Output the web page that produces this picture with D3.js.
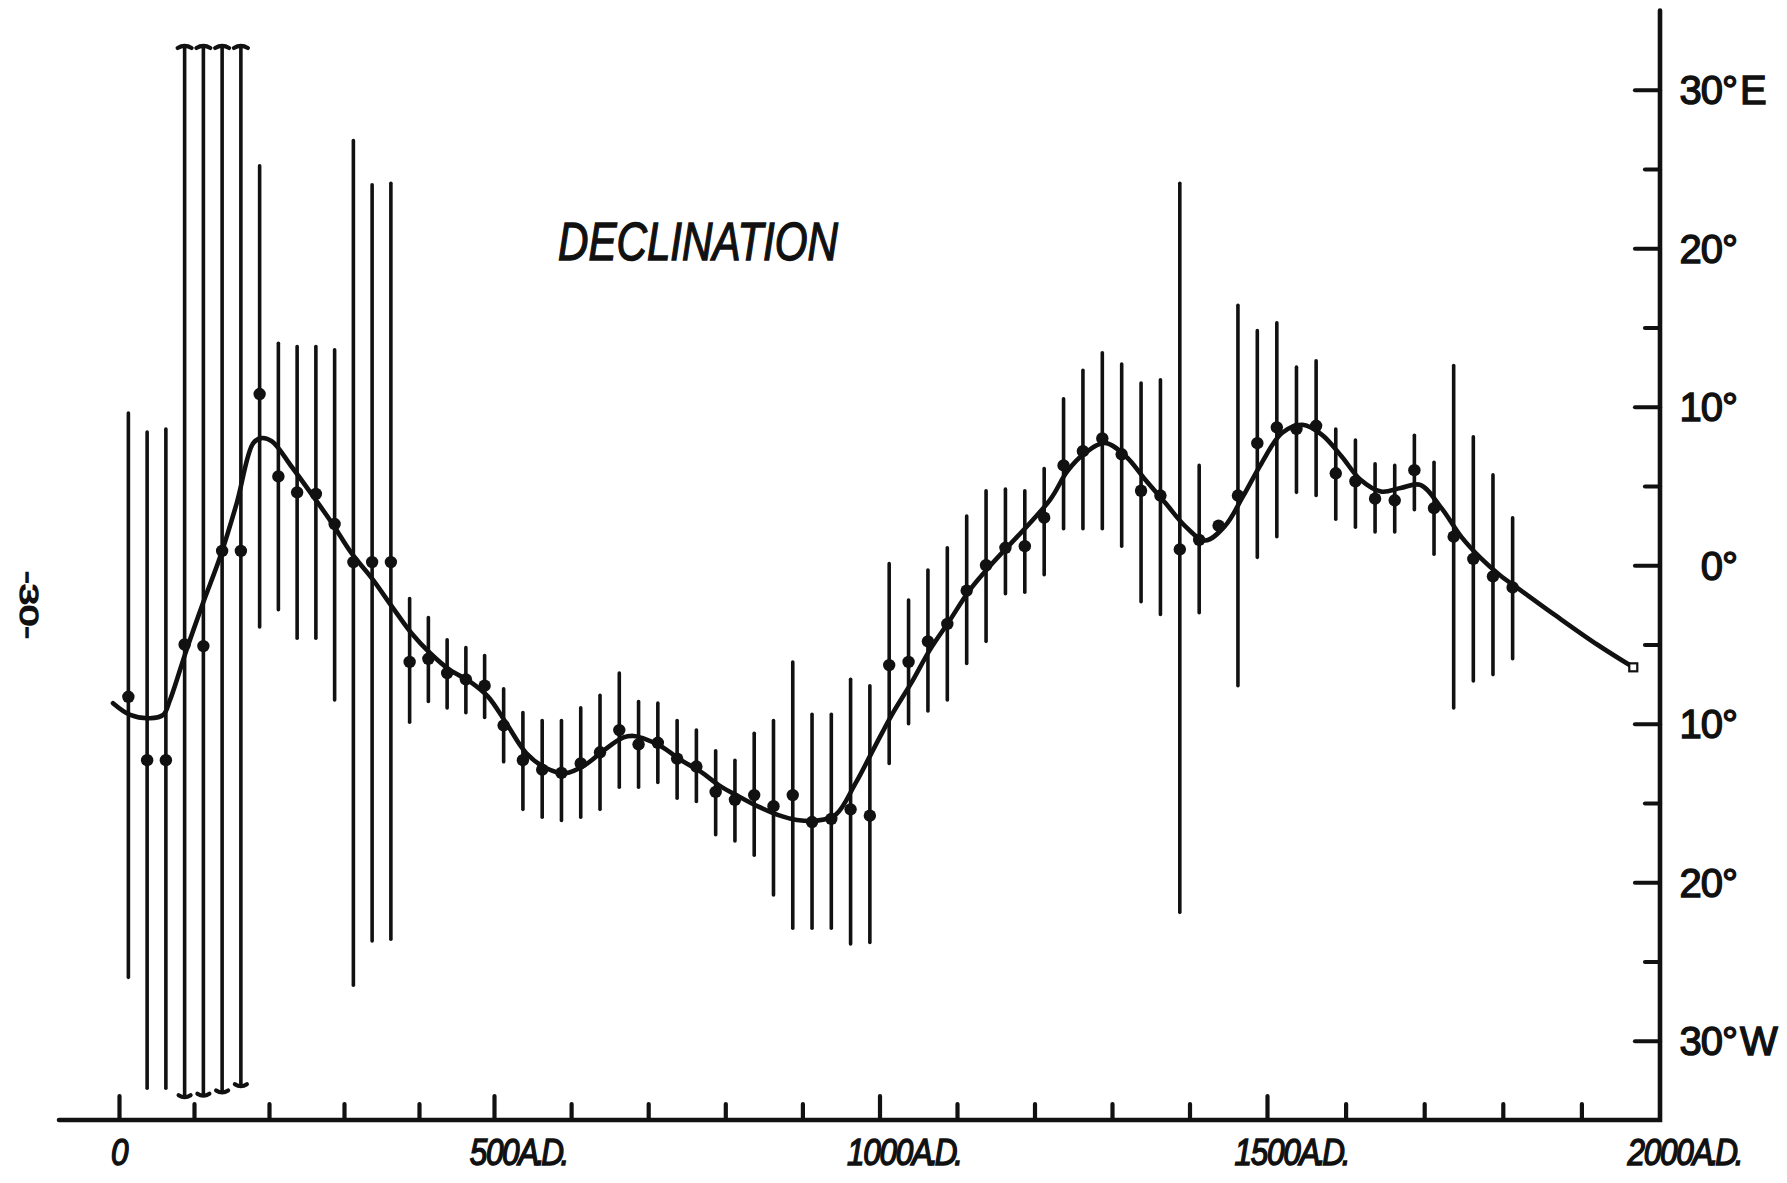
<!DOCTYPE html>
<html>
<head>
<meta charset="utf-8">
<title>Declination</title>
<script src="https://cdn.jsdelivr.net/npm/d3@7"></script>
<style>
    html, body { margin: 0; padding: 0; background: #fff; }
    svg { display: block; }
    text { font-family: "Liberation Sans", Arial, sans-serif; fill: #111; }
</style>
</head>
<body>
<svg id="chart" width="1787" height="1183"></svg>
<script>
/**
 * Declination record, 0 - 2000 A.D.: 25-year means with error bars
 * plus the smoothed curve. Degrees, positive = east.
 */

// 25-year bin centres
const years = [
    12.5, 37.5, 62.5, 87.5, 112.5, 137.5, 162.5, 187.5, 212.5, 237.5,
    262.5, 287.5, 312.5, 337.5, 362.5, 387.5, 412.5, 437.5, 462.5, 487.5,
    512.5, 537.5, 562.5, 587.5, 612.5, 637.5, 662.5, 687.5, 712.5, 737.5,
    762.5, 787.5, 812.5, 837.5, 862.5, 887.5, 912.5, 937.5, 962.5, 987.5,
    1012.5, 1037.5, 1062.5, 1087.5, 1112.5, 1137.5, 1162.5, 1187.5, 1212.5, 1237.5,
    1262.5, 1287.5, 1312.5, 1337.5, 1362.5, 1387.5, 1412.5, 1437.5, 1462.5, 1487.5,
    1512.5, 1537.5, 1562.5, 1587.5, 1612.5, 1637.5, 1662.5, 1687.5, 1712.5, 1737.5,
    1762.5, 1787.5, 1812.5,
];

const declination = [
    -8.3, -12.3, -12.3, -5.0, -5.1, 0.9, 0.9, 10.8, 5.6, 4.6,
    4.5, 2.6, 0.2, 0.2, 0.2, -6.1, -5.9, -6.8, -7.2, -7.6,
    -10.1, -12.3, -12.9, -13.1, -12.5, -11.8, -10.4, -11.3, -11.2, -12.2,
    -12.7, -14.3, -14.8, -14.5, -15.2, -14.5, -16.2, -16.0, -15.4, -15.8,
    -6.3, -6.1, -4.8, -3.7, -1.6, 0.0, 1.1, 1.2, 3.0, 6.3,
    7.2, 8.0, 7.0, 4.7, 4.4, 1.0, 1.6, 2.5, 4.4, 7.7,
    8.7, 8.6, 8.8, 5.8, 5.3, 4.2, 4.1, 6.0, 3.6, 1.8,
    0.4, -0.7, -1.4,
];

// upper / lower end of each error bar (null = no bar drawn)
const errHigh = [
    9.6, 8.4, 8.6, 32.7, 32.7, 32.7, 32.7, 25.2, 14.0, 13.8,
    13.8, 13.6, 26.8, 24.0, 24.1, -2.1, -3.3, -4.7, -5.2, -5.7,
    -7.8, -9.3, -9.8, -9.8, -9.0, -8.2, -6.8, -8.6, -8.7, -9.8,
    -10.4, -11.7, -12.3, -10.6, -9.8, -6.1, -9.4, -9.4, -7.2, -7.6,
    0.1, -2.2, -0.3, 1.1, 3.1, 4.7, 4.8, 4.7, 6.1, 10.5,
    12.3, 13.4, 12.7, 11.5, 11.7, 24.1, 6.3, null, 16.4, 14.8,
    15.3, 12.5, 12.9, 8.6, 7.9, 6.4, 6.3, 8.2, 6.5, 12.6,
    8.1, 5.7, 3.0,
];

const errLow = [
    -26.0, -33.0, -33.0, -33.5, -33.4, -33.2, -32.8, -3.9, -2.8, -4.6,
    -4.6, -8.5, -26.5, -23.7, -23.6, -9.9, -8.6, -9.0, -9.3, -9.6,
    -12.4, -15.4, -15.9, -16.1, -15.9, -15.4, -14.0, -14.0, -13.7, -14.7,
    -14.9, -17.0, -17.4, -18.3, -20.8, -22.9, -22.9, -22.9, -23.9, -23.8,
    -12.5, -10.0, -9.2, -8.5, -6.2, -4.8, -1.8, -1.7, -0.6, 2.3,
    2.3, 2.3, 1.2, -2.3, -3.1, -21.9, -3.0, null, -7.6, 0.5,
    1.8, 4.6, 4.4, 2.9, 2.4, 2.1, 2.1, 3.5, 0.7, -9.0,
    -7.3, -6.9, -5.9,
];

// bars running off the scale, drawn with end caps
const offScaleYears = [87.5, 112.5, 137.5, 162.5];

// smoothed curve
const curveYears = [
    -8, 15, 41, 59, 68, 90, 112, 135, 157, 179,
    190, 204, 230, 259, 284, 310, 337, 364, 390, 415,
    441, 468, 492, 516, 542, 568, 593, 618, 643, 668,
    681, 693, 717, 742, 768, 793, 818, 843, 868, 893,
    919, 943, 969, 994, 1017, 1042, 1065, 1091, 1115, 1142,
    1220, 1242, 1265, 1291, 1318, 1343, 1369, 1395, 1420, 1446,
    1469, 1493, 1519, 1545, 1570, 1595, 1619, 1645, 1670, 1695,
    1722, 1747, 1772, 1796, 1822, 1868, 1920, 1966,
];

const curveValues = [
    -8.70, -9.44, -9.65, -9.44, -8.50, -5.34, -2.39, 0.55, 3.92, 7.71,
    8.02, 7.81, 6.23, 4.34, 2.66, 0.76, -0.81, -2.61, -4.29, -5.55,
    -6.60, -7.34, -8.29, -9.97, -11.86, -12.81, -13.12, -12.60, -11.65, -10.86,
    -10.77, -10.91, -11.44, -12.28, -13.02, -13.92, -14.60, -15.23, -15.75, -16.07,
    -16.11, -15.75, -13.75, -11.44, -9.34, -7.34, -5.34, -3.45, -1.66, -0.08,
    4.13, 5.91, 7.07, 7.71, 6.86, 5.39, 3.92, 2.44, 1.56, 2.49,
    4.34, 6.44, 8.34, 8.86, 8.23, 6.86, 5.39, 4.65, 4.87, 5.07,
    3.60, 1.81, 0.45, -0.61, -1.55, -3.20, -5.00, -6.44,
];

// axes
const xMajorYears = [0, 500, 1000, 1500, 2000];
const xMinorYears = [100, 200, 300, 400, 600, 700, 800, 900, 1100, 1200, 1300, 1400, 1600, 1700, 1800, 1900];
const xTickNumbers = ['0', '500', '1000', '1500', '2000'];
const xTickSuffix = ['', 'A.D.', 'A.D.', 'A.D.', 'A.D.'];

const yMajorValues = [30, 20, 10, 0, -10, -20, -30];
const yMinorValues = [25, 15, 5, -5, -15, -25];
const yTickNumbers = ['30°', '20°', '10°', '0°', '10°', '20°', '30°'];
const yTickSuffix = ['E', '', '', '', '', '', 'W'];

const chartTitle = 'DECLINATION';
const pageNumber = '-30-';

const DeclinationChart = {
    draw() {
        const svg = d3.select('#chart');
        svg.selectAll('*').remove();
        svg.append('rect').attr('width', 1787).attr('height', 1183).attr('fill', '#fff');

        // the drawn axis is slightly stretched toward the right, so piecewise
        const x = d3.scaleLinear()
            .domain([0, 500, 1000, 1500, 2000])
            .range([119, 494, 879.5, 1267, 1660]);
        const y = d3.scaleLinear().domain([-35, 35]).range([1120, 10.5]);

        const ink = '#111';
        const g = svg.append('g');

        const points = years.map((yr, i) => ({
            year: yr,
            dec: declination[i],
            hi: errHigh[i],
            lo: errLow[i],
            capped: offScaleYears.includes(yr),
        }));
        const withBars = points.filter(d => d.hi !== null);

        // error bars
        g.selectAll('.err')
            .data(withBars)
            .join('line')
            .attr('class', 'err')
            .attr('x1', d => x(d.year)).attr('x2', d => x(d.year))
            .attr('y1', d => y(d.hi)).attr('y2', d => y(d.lo))
            .attr('stroke', ink).attr('stroke-width', 3.6)
            .attr('stroke-linecap', 'round');

        // caps on the off-scale bars
        const capped = withBars.filter(d => d.capped);
        g.selectAll('.cap-top')
            .data(capped)
            .join('path')
            .attr('class', 'cap-top')
            .attr('d', d => {
                const cx = x(d.year), cy = y(d.hi);
                return `M${cx - 7},${cy + 1}Q${cx},${cy - 3} ${cx + 7},${cy + 1}`;
            })
            .attr('fill', 'none').attr('stroke', ink).attr('stroke-width', 4.2)
            .attr('stroke-linecap', 'round');
        g.selectAll('.cap-bottom')
            .data(capped)
            .join('path')
            .attr('class', 'cap-bottom')
            .attr('d', d => {
                const cx = x(d.year), cy = y(d.lo);
                return `M${cx - 6},${cy - 1}Q${cx},${cy + 3} ${cx + 6},${cy - 1}`;
            })
            .attr('fill', 'none').attr('stroke', ink).attr('stroke-width', 4.2)
            .attr('stroke-linecap', 'round');

        // smoothed curve
        const curve = curveYears.map((yr, i) => [yr, curveValues[i]]);
        const line = d3.line()
            .x(d => x(d[0]))
            .y(d => y(d[1]))
            .curve(d3.curveCatmullRom.alpha(0.5));
        g.append('path')
            .datum(curve)
            .attr('d', line)
            .attr('fill', 'none')
            .attr('stroke', ink)
            .attr('stroke-width', 4.6)
            .attr('stroke-linejoin', 'round')
            .attr('stroke-linecap', 'round');

        // present-day value: small open square at the end of the curve
        const last = curve[curve.length - 1];
        g.append('rect')
            .attr('x', x(last[0]) - 4).attr('y', y(last[1]) - 4)
            .attr('width', 8).attr('height', 8)
            .attr('fill', '#fff').attr('stroke', ink).attr('stroke-width', 2.2);

        // means
        g.selectAll('.mean')
            .data(points)
            .join('circle')
            .attr('class', 'mean')
            .attr('cx', d => x(d.year))
            .attr('cy', d => y(d.dec))
            .attr('r', 6.2)
            .attr('fill', ink);

        // ---- axes ----
        const axisY = y(-35);
        const axisX = x(2000);

        const styleTicks = sel => {
            sel.select('.domain').remove();
            sel.selectAll('line')
                .attr('stroke', ink).attr('stroke-width', 4.2)
                .attr('stroke-linecap', 'round');
        };

        svg.append('g')
            .attr('transform', `translate(0,${axisY})`)
            .call(d3.axisBottom(x).tickValues(xMinorYears).tickSize(-16).tickFormat(''))
            .call(styleTicks);
        svg.append('g')
            .attr('transform', `translate(0,${axisY})`)
            .call(d3.axisBottom(x).tickValues(xMajorYears.slice(0, -1)).tickSize(-24).tickFormat(''))
            .call(styleTicks);

        svg.append('g')
            .attr('transform', `translate(${axisX},0)`)
            .call(d3.axisRight(y).tickValues(yMinorValues).tickSize(-15).tickFormat(''))
            .call(styleTicks);
        svg.append('g')
            .attr('transform', `translate(${axisX},0)`)
            .call(d3.axisRight(y).tickValues(yMajorValues).tickSize(-25).tickFormat(''))
            .call(styleTicks);

        // base line starts a little left of 0 A.D.; right frame runs the full height
        svg.append('path')
            .attr('d', `M${x(-80)},${axisY}H${axisX}V${y(35)}`)
            .attr('fill', 'none')
            .attr('stroke', ink).attr('stroke-width', 4.6)
            .attr('stroke-linecap', 'round').attr('stroke-linejoin', 'miter');

        // x labels: the number sits centred on its tick, "A.D." trails after it
        const squeeze = 0.85;
        xMajorYears.forEach((yr, i) => {
            const t = svg.append('text')
                .attr('x', 0).attr('y', 0)
                .attr('font-size', 37)
                .attr('font-style', 'italic')
                .attr('letter-spacing', -1.5)
                .attr('stroke', ink).attr('stroke-width', 1.5);
            const num = t.append('tspan').text(xTickNumbers[i]);
            const w = num.node().getComputedTextLength();
            t.append('tspan').attr('letter-spacing', -4).text(xTickSuffix[i]);
            t.attr('transform', `translate(${x(yr) - w * squeeze / 2},1165) scale(${squeeze},1)`);
        });

        // y labels: degree part right-aligned, E / W hanging to the right
        yMajorValues.forEach((v, i) => {
            const ty = y(v) + 14.5;
            svg.append('text')
                .attr('x', 1737).attr('y', ty)
                .attr('text-anchor', 'end')
                .attr('font-size', 40)
                .attr('letter-spacing', -1)
                .attr('stroke', ink).attr('stroke-width', 1.4)
                .text(yTickNumbers[i]);
            if (yTickSuffix[i]) {
                svg.append('text')
                    .attr('x', 1740).attr('y', ty)
                    .attr('font-size', 40)
                    .attr('stroke', ink).attr('stroke-width', 1.4)
                    .text(yTickSuffix[i]);
            }
        });

        // title
        svg.append('text')
            .attr('x', 558).attr('y', 260)
            .attr('font-size', 53)
            .attr('font-style', 'italic')
            .attr('textLength', 280)
            .attr('lengthAdjust', 'spacingAndGlyphs')
            .attr('stroke', ink).attr('stroke-width', 1.4)
            .text(chartTitle);

        // page number in the left margin
        svg.append('text')
            .attr('transform', 'translate(29,605) rotate(90)')
            .attr('text-anchor', 'middle')
            .attr('dominant-baseline', 'central')
            .attr('font-size', 25)
            .attr('textLength', 68)
            .attr('lengthAdjust', 'spacingAndGlyphs')
            .attr('stroke', ink).attr('stroke-width', 1.4)
            .text(pageNumber);
    },
};

DeclinationChart.draw();
</script>
</body>
</html>
